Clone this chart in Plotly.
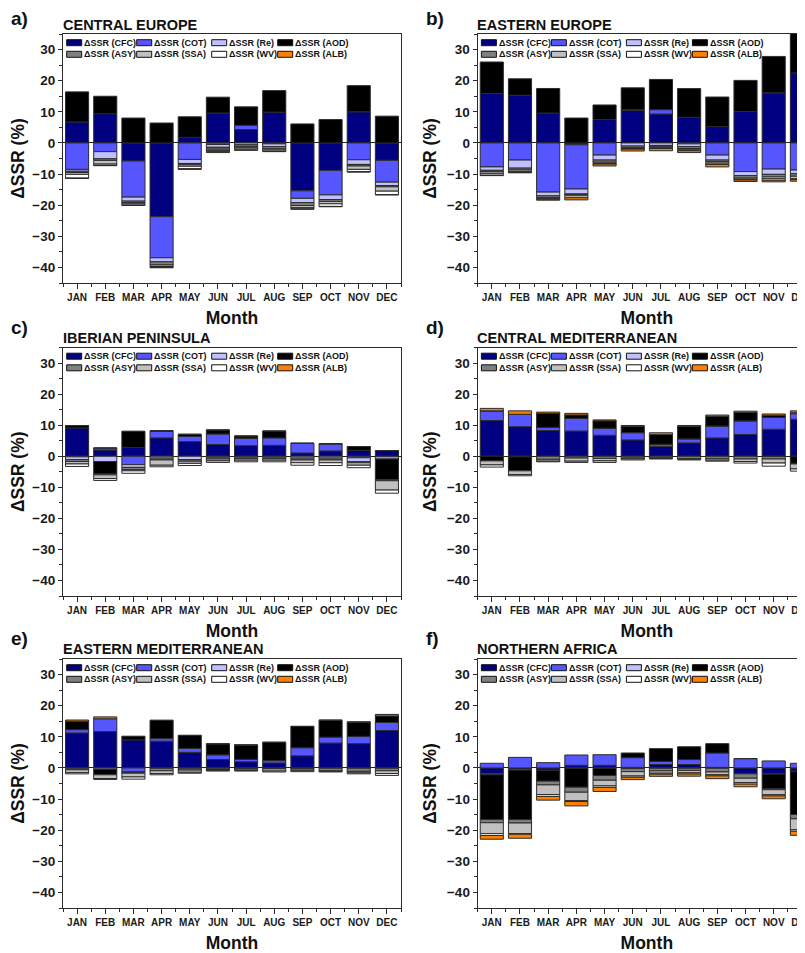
import plotly.graph_objects as go

# ---------------- data ----------------
MONTHS = ['JAN', 'FEB', 'MAR', 'APR', 'MAY', 'JUN', 'JUL', 'AUG', 'SEP', 'OCT', 'NOV', 'DEC']
MONTH_NUM = list(range(1, 13))
SERIES_LABELS = ['ΔSSR (CFC)', 'ΔSSR (COT)', 'ΔSSR (Re)', 'ΔSSR (AOD)',
                 'ΔSSR (ASY)', 'ΔSSR (SSA)', 'ΔSSR (WV)', 'ΔSSR (ALB)']
COLORS = ['#000080', '#5656FF', '#C0C0FF', '#000000',
          '#808080', '#C0C0C0', '#FFFFFF', '#FF8000']

# a) Central Europe
ce_cfc = [6.75, 9.4, -5.8, -23.7, 1.8, 9.6, 4.3, 9.9, -15.4, -8.8, 10.0, -5.6]
ce_cot = [-8.5, -2.8, -11.6, -13.2, -5.3, -0.5, 1.4, -0.3, -2.4, -7.9, -5.4, -7.0]
ce_re = [-0.6, -2.3, -1.3, -1.3, -1.3, -0.9, -0.6, -0.9, -1.4, -1.5, -1.5, -1.1]
ce_aod = [9.65, 5.6, 8.0, 6.4, 6.6, 5.1, 5.9, 6.9, 6.1, 7.5, 8.4, 8.6]
ce_asy = [-0.4, -0.5, -0.5, -1.0, -0.4, -0.6, -0.6, -0.7, -0.9, -0.6, -0.5, -0.4]
ce_ssa = [-0.6, -1.2, -0.4, -0.5, -0.5, -0.4, -0.4, -0.4, -0.7, -0.75, -1.1, -1.4]
ce_wv = [-1.2, -0.4, -0.4, -0.3, -0.8, -0.3, -0.4, -0.4, -0.4, -0.85, -0.75, -1.1]
ce_alb = [-0.1, -0.1, -0.1, -0.1, -0.2, -0.4, -0.4, -0.1, -0.1, -0.1, -0.1, -0.1]

# b) Eastern Europe
ee_cfc = [15.9, 15.3, 9.6, -0.6, 7.5, 10.4, 9.3, 8.25, 5.25, 10.1, 16.1, 22.5]
ee_cot = [-7.7, -5.5, -15.8, -14.2, -3.9, 0.3, 1.4, -0.3, -3.9, -9.2, -8.4, -8.7]
ee_re = [-1.1, -2.6, -1.2, -1.6, -1.6, -1.0, -0.8, -0.9, -1.6, -1.3, -1.7, -1.2]
ee_aod = [10.1, 5.3, 7.9, 8.0, 4.7, 7.0, 9.7, 9.2, 9.5, 10.0, 11.7, 12.8]
ee_asy = [-0.5, -0.6, -0.6, -0.3, -0.7, -0.5, -0.5, -0.6, -0.5, -0.8, -0.8, -0.8]
ee_ssa = [-0.6, -0.5, -0.3, -0.3, -0.4, -0.3, -0.3, -0.4, -0.5, -0.4, -0.6, -0.8]
ee_wv = [-0.5, -0.3, -0.2, -0.6, -0.2, -0.2, -0.2, -0.3, -0.4, -0.2, -0.5, -0.3]
ee_alb = [-0.1, -0.1, -0.3, -0.7, -0.6, -0.6, -0.7, -0.6, -0.8, -0.5, -0.5, -0.5]

# c) Iberian Peninsula
ip_cfc = [9.1, 2.0, 2.8, 5.9, 4.7, 3.75, 3.4, 3.5, 1.05, 1.7, 1.9, 1.8]
ip_cot = [-0.2, 0.65, -2.7, 2.1, 1.7, 3.4, 2.4, 2.4, 3.1, 2.3, -0.5, -0.2]
ip_re = [-0.9, -1.7, -0.9, -0.6, -1.1, -0.3, -0.3, -0.3, -0.6, -0.6, -1.3, -0.7]
ip_aod = [0.75, -4.0, 5.2, 0.2, 0.65, 1.3, 0.7, 2.2, 0.0, 0.0, 1.2, -6.7]
ip_asy = [-0.6, -0.3, -0.7, -0.6, -0.5, -0.6, -0.5, -0.5, -0.6, -0.6, -0.3, -0.3]
ip_ssa = [-0.8, -1.2, -0.4, -1.7, -0.7, -0.6, -0.5, -0.5, -0.9, -0.9, -0.8, -3.0]
ip_wv = [-0.8, -0.6, -0.8, -0.5, -0.7, -0.5, -0.5, -0.5, -0.8, -0.9, -0.8, -1.0]
ip_alb = [0.0, 0.0, 0.0, 0.0, 0.0, 0.0, 0.0, 0.0, 0.0, 0.0, 0.0, 0.0]

# d) Central Mediterranean
cm_cfc = [11.5, 9.5, 8.25, 8.1, 6.75, 5.25, 3.2, 4.3, 5.9, 7.0, 8.7, 11.9]
cm_cot = [3.1, 4.0, 1.05, 4.1, 2.25, 2.35, 0.65, 1.3, 3.85, 4.4, 3.8, 1.8]
cm_re = [0.0, -0.2, 0.0, 0.0, 0.0, 0.0, 0.0, 0.0, 0.0, 0.0, -0.1, 0.3]
cm_aod = [-1.4, -4.4, 4.5, 1.1, 2.4, 2.0, 3.1, 4.0, 3.1, 2.7, 0.7, -2.3]
cm_asy = [-0.1, -0.1, -1.0, -0.6, -0.7, -0.6, -0.5, -0.8, -0.8, -0.9, -0.8, -0.2]
cm_ssa = [-1.3, -1.2, -0.6, -1.0, -0.8, -0.3, -0.2, -0.2, -0.5, -0.8, -1.3, -1.6]
cm_wv = [-0.7, -0.4, -0.2, -0.4, -0.5, -0.3, -0.2, -0.2, -0.3, -0.5, -1.0, -0.7]
cm_alb = [0.8, 1.1, 0.4, 0.5, 0.3, 0.3, 0.6, 0.3, 0.4, 0.4, 0.4, 0.6]

# e) Eastern Mediterranean
em_cfc = [11.25, 11.7, 9.0, 8.6, 5.0, 2.7, 2.0, 1.6, 3.9, 8.0, 7.8, 12.0]
em_cot = [1.05, 4.1, -1.2, 0.85, 1.3, 1.5, 0.75, 0.75, 2.6, 1.9, 2.35, 2.6]
em_re = [-0.1, -0.4, -0.2, -0.1, -0.1, -0.1, -0.1, -0.1, -0.1, -0.1, -0.1, -0.1]
em_aod = [2.7, -1.7, 1.1, 5.8, 4.1, 3.5, 4.6, 5.85, 6.8, 5.4, 4.5, 2.1]
em_asy = [-0.5, -0.1, -0.3, -0.8, -0.6, -0.4, -0.3, -0.2, -0.3, -0.8, -1.0, -0.8]
em_ssa = [-0.9, -1.2, -1.2, -0.9, -0.7, -0.3, -0.4, -0.7, -0.5, -0.2, -0.5, -0.9]
em_wv = [-0.4, -0.3, -0.7, -0.4, -0.3, -0.2, -0.2, -0.3, -0.3, -0.2, -0.3, -0.6]
em_alb = [0.4, 0.6, 0.1, 0.1, 0.1, 0.1, 0.1, 0.1, 0.1, 0.1, 0.2, 0.5]

# f) Northern Africa
na_cfc = [-1.9, -0.4, -0.75, 0.85, 0.85, 0.2, 1.1, 1.1, 0.2, -1.8, -1.9, -1.05]
na_cot = [1.5, 3.4, 1.7, 3.3, 3.4, 3.1, 1.0, 1.6, 4.6, 3.0, 2.25, 1.5]
na_re = [-0.3, -0.3, -0.1, -0.1, -0.1, -0.2, -0.1, -0.1, -0.1, -0.1, -0.1, -0.1]
na_aod = [-14.4, -15.9, -3.4, -6.1, -2.35, 1.5, 4.1, 4.1, 3.0, 0.0, -4.6, -13.8]
na_asy = [-1.0, -1.1, -1.2, -1.6, -1.5, -1.0, -0.85, -0.7, -1.2, -1.4, -0.4, -1.4]
na_ssa = [-3.5, -3.4, -3.1, -2.7, -1.8, -1.4, -0.75, -0.75, -0.85, -1.4, -1.6, -3.5]
na_wv = [-0.6, -0.2, -0.6, -0.3, -0.5, -0.4, -0.3, -0.4, -0.4, -0.5, -0.4, -0.5]
na_alb = [-1.2, -1.3, -1.2, -1.4, -1.3, -0.75, -0.7, -0.7, -0.9, -0.85, -0.9, -1.3]

Y_TICKS = [-40, -30, -20, -10, 0, 10, 20, 30]
Y_MINOR = [-45, -35, -25, -15, -5, 5, 15, 25, 35]

PANELS = [
    ('a)', 'CENTRAL EUROPE', [ce_cfc, ce_cot, ce_re, ce_aod, ce_asy, ce_ssa, ce_wv, ce_alb]),
    ('b)', 'EASTERN EUROPE', [ee_cfc, ee_cot, ee_re, ee_aod, ee_asy, ee_ssa, ee_wv, ee_alb]),
    ('c)', 'IBERIAN PENINSULA', [ip_cfc, ip_cot, ip_re, ip_aod, ip_asy, ip_ssa, ip_wv, ip_alb]),
    ('d)', 'CENTRAL MEDITERRANEAN', [cm_cfc, cm_cot, cm_re, cm_aod, cm_asy, cm_ssa, cm_wv, cm_alb]),
    ('e)', 'EASTERN MEDITERRANEAN', [em_cfc, em_cot, em_re, em_aod, em_asy, em_ssa, em_wv, em_alb]),
    ('f)', 'NORTHERN AFRICA', [na_cfc, na_cot, na_re, na_aod, na_asy, na_ssa, na_wv, na_alb]),
]

# ---------------- layout geometry (screen pixels; page body has an 8px margin) ----------------
OFF = 8.0
W, H = 812, 953
FONT = 'Liberation Sans, Arial, sans-serif'
AX = '#2b2b2b'
OUTLINE = '#2b2b2b'
X_LEFT = [63.0, 477.7]
X_RIGHT = [401.0, 816.0]
Y_TOP = [34.0, 347.5, 659.0]
Y_BOT = [283.0, 596.0, 908.0]
LABEL_Y = [18.5, 327.5, 638.5]
TITLE_Y = [25.5, 337.5, 649.0]
LABEL_X = [9.0, 424.0]
TITLE_X = [61.0, 475.0]
LEG_SW = [3.7, 73.7, 148.7, 214.7]
LEG_ROW = [8.7, 20.3]


def px(x):
    return (x - OFF) / W


def py(y):
    return 1 - (y - OFF) / H


fig = go.Figure()
layout = dict(
    width=W, height=H, margin=dict(l=0, r=0, t=0, b=0),
    paper_bgcolor='white', plot_bgcolor='white',
    barmode='relative', showlegend=False,
    font=dict(family=FONT, color='#111111'),
)
annotations = []
shapes = []

for i, (lab, title, series) in enumerate(PANELS):
    k = i + 1
    col, row = i % 2, i // 2
    xname = 'x' if k == 1 else f'x{k}'
    yname = 'y' if k == 1 else f'y{k}'
    for name, vals, color in zip(SERIES_LABELS, series, COLORS):
        fig.add_trace(go.Bar(
            x=MONTH_NUM, y=vals, xaxis=xname, yaxis=yname, name=name,
            width=0.82, showlegend=False,
            marker=dict(color=color, line=dict(color=OUTLINE, width=1)),
        ))
    layout['xaxis' if k == 1 else f'xaxis{k}'] = dict(
        domain=[px(X_LEFT[col]), px(X_RIGHT[col])], anchor=yname, range=[0.5, 12.5],
        tickmode='array', tickvals=MONTH_NUM, ticktext=MONTHS,
        ticks='outside', ticklen=5, tickwidth=1, tickcolor=AX,
        minor=dict(tickvals=[m + 0.5 for m in range(0, 13)], ticks='outside', ticklen=3, tickcolor=AX),
        showline=True, linecolor=AX, linewidth=1.2, mirror=True,
        showgrid=False, zeroline=False, fixedrange=True,
        tickfont=dict(family=FONT, size=10, weight='bold', color='#1a1a1a'),
        title=dict(text='Month', font=dict(family=FONT, size=17.5, weight='bold', color='#111'), standoff=9),
    )
    layout['yaxis' if k == 1 else f'yaxis{k}'] = dict(
        domain=[py(Y_BOT[row]), py(Y_TOP[row])], anchor=xname, range=[-45, 35],
        tickmode='array', tickvals=Y_TICKS,
        ticks='outside', ticklen=4, tickwidth=1, tickcolor=AX,
        minor=dict(tickvals=Y_MINOR, ticks='outside', ticklen=2.5, tickcolor=AX),
        showline=True, linecolor=AX, linewidth=1.2, mirror=True,
        showgrid=False, zeroline=True, zerolinecolor='#222222', zerolinewidth=1,
        tickfont=dict(family=FONT, size=13.5, weight='bold', color='#1a1a1a'),
        title=dict(text='ΔSSR (%)', font=dict(family=FONT, size=17.5, weight='bold', color='#111'), standoff=5),
    )
    # panel letter and region title
    annotations.append(dict(text=lab, x=px(LABEL_X[col]), y=py(LABEL_Y[row]), xref='paper', yref='paper',
                            xanchor='left', yanchor='middle', showarrow=False,
                            font=dict(family=FONT, size=19, weight='bold', color='#111')))
    annotations.append(dict(text=title, x=px(TITLE_X[col]), y=py(TITLE_Y[row]), xref='paper', yref='paper',
                            xanchor='left', yanchor='middle', showarrow=False,
                            font=dict(family=FONT, size=14.5, weight='bold', color='#111')))
    # legend (2 rows x 4 columns) inside the plot area
    for j, (name, color) in enumerate(zip(SERIES_LABELS, COLORS)):
        r, c = j // 4, j % 4
        cy = Y_TOP[row] + LEG_ROW[r]
        x0 = X_LEFT[col] + LEG_SW[c]
        shapes.append(dict(type='rect', xref='paper', yref='paper',
                           x0=px(x0), x1=px(x0 + 15), y0=py(cy + 3), y1=py(cy - 3),
                           fillcolor=color, line=dict(color='#111', width=1), layer='above'))
        annotations.append(dict(text=name, x=px(x0 + 15.5), y=py(cy), xref='paper', yref='paper',
                                xanchor='left', yanchor='middle', showarrow=False,
                                font=dict(family=FONT, size=9, weight='bold', color='#111')))

layout['annotations'] = annotations
layout['shapes'] = shapes
fig.update_layout(**layout)
fig.write_html('out.html')
